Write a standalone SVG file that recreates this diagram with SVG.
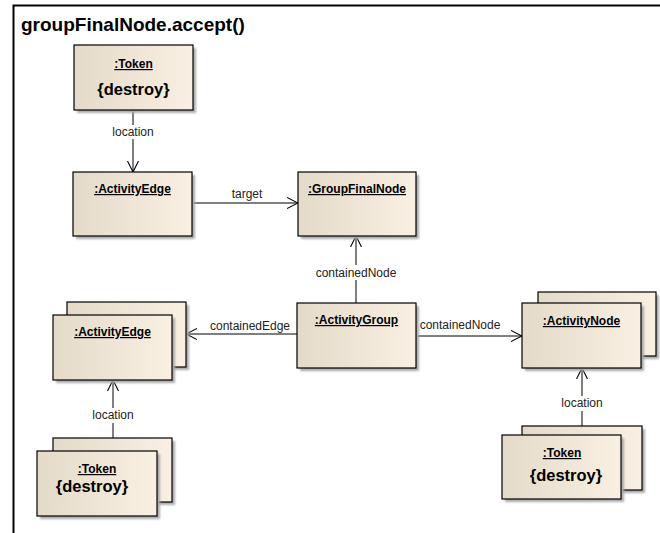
<svg xmlns="http://www.w3.org/2000/svg" width="660" height="533" viewBox="0 0 660 533">
<defs>
<linearGradient id="g" x1="0" y1="0" x2="1" y2="0">
<stop offset="0" stop-color="#e4dac9"/>
<stop offset="1" stop-color="#f9f0e3"/>
</linearGradient>
<filter id="sh" x="-10%" y="-10%" width="130%" height="130%">
<feGaussianBlur stdDeviation="0.8"/>
</filter>
<marker id="arr" viewBox="0 0 12 12" refX="11" refY="6" markerWidth="12" markerHeight="12" markerUnits="userSpaceOnUse" orient="auto">
<path d="M0,0.5 L11,6 L0,11.5" fill="none" stroke="#000" stroke-width="1.1"/>
</marker>
</defs>
<style>
.box{fill:url(#g);stroke:#000;stroke-width:1.2}
.shd{fill:#aaa;filter:url(#sh)}
.nm{font-family:"Liberation Sans",Arial,sans-serif;font-size:12px;font-weight:bold;text-anchor:middle;text-decoration:underline;fill:#000}
.ds{font-family:"Liberation Sans",Arial,sans-serif;font-size:16.5px;font-weight:bold;text-anchor:middle;fill:#000}
.lb{font-family:"Liberation Sans",Arial,sans-serif;font-size:12px;text-anchor:middle;fill:#222}
.ln{fill:none;stroke:#000;stroke-width:1}
</style>
<rect width="660" height="533" fill="#fff"/>
<g id="frame">
<path d="M13.5,533 V5.5 H660" fill="none" stroke="#000" stroke-width="2"/>
<text x="21" y="31" font-family="'Liberation Sans',Arial,sans-serif" font-size="19" font-weight="bold">groupFinalNode.accept()</text>
</g>
<g id="connectors">
<line class="ln" x1="133" y1="110" x2="133" y2="172" marker-end="url(#arr)"/>
<rect x="109" y="125" width="48" height="14" fill="#fff"/>
<text class="lb" x="133" y="136">location</text>
<line class="ln" x1="192" y1="203" x2="298" y2="203" marker-end="url(#arr)"/>
<text class="lb" x="247" y="198">target</text>
<line class="ln" x1="356" y1="303" x2="356" y2="236" marker-end="url(#arr)"/>
<rect x="314" y="265" width="84" height="15" fill="#fff"/>
<text class="lb" x="356" y="277">containedNode</text>
<line class="ln" x1="297" y1="334" x2="186" y2="334" marker-end="url(#arr)"/>
<rect x="209" y="319" width="83" height="13" fill="#fff"/>
<text class="lb" x="250" y="330">containedEdge</text>
<line class="ln" x1="416" y1="336" x2="522" y2="336" marker-end="url(#arr)"/>
<text class="lb" x="460" y="329">containedNode</text>
<line class="ln" x1="113" y1="438" x2="113" y2="380" marker-end="url(#arr)"/>
<rect x="89" y="408" width="48" height="15" fill="#fff"/>
<text class="lb" x="113" y="419">location</text>
<line class="ln" x1="582" y1="426" x2="582" y2="368" marker-end="url(#arr)"/>
<rect x="558" y="396" width="48" height="15" fill="#fff"/>
<text class="lb" x="582" y="407">location</text>
</g>
<g id="token1">
<rect class="shd" x="77" y="48" width="119" height="65"/>
<rect class="box" x="74" y="45" width="119" height="65"/>
<text class="nm" x="133.5" y="68">:Token</text>
<text class="ds" x="133.5" y="95">{destroy}</text>
</g>
<g id="activityEdge1">
<rect class="shd" x="76" y="175" width="119" height="64"/>
<rect class="box" x="73" y="172" width="119" height="64"/>
<text class="nm" x="132.5" y="193">:ActivityEdge</text>
</g>
<g id="groupFinalNode">
<rect class="shd" x="301" y="175" width="118" height="64"/>
<rect class="box" x="298" y="172" width="118" height="64"/>
<text class="nm" x="357" y="193">:GroupFinalNode</text>
</g>
<g id="activityGroup">
<rect class="shd" x="300" y="306" width="119" height="65"/>
<rect class="box" x="297" y="303" width="119" height="65"/>
<text class="nm" x="356.5" y="324">:ActivityGroup</text>
</g>
<g id="activityEdge2">
<rect class="shd" x="70" y="305" width="119" height="65"/>
<rect class="box" x="67" y="302" width="119" height="65"/>
<rect class="shd" x="56" y="318" width="119" height="65"/>
<rect class="box" x="53" y="315" width="119" height="65"/>
<text class="nm" x="112.5" y="336">:ActivityEdge</text>
</g>
<g id="activityNode">
<rect class="shd" x="541" y="295" width="118" height="64"/>
<rect class="box" x="538" y="292" width="118" height="64"/>
<rect class="shd" x="525" y="306" width="119" height="65"/>
<rect class="box" x="522" y="303" width="119" height="65"/>
<text class="nm" x="581.5" y="325">:ActivityNode</text>
</g>
<g id="token2">
<rect class="shd" x="56" y="441" width="119" height="64"/>
<rect class="box" x="53" y="438" width="119" height="64"/>
<rect class="shd" x="40" y="454" width="120" height="65"/>
<rect class="box" x="37" y="451" width="120" height="65"/>
<text class="nm" x="97" y="473">:Token</text>
<text class="ds" x="92" y="492">{destroy}</text>
</g>
<g id="token3">
<rect class="shd" x="525" y="429" width="120" height="64"/>
<rect class="box" x="522" y="426" width="120" height="64"/>
<rect class="shd" x="505" y="438" width="119" height="64"/>
<rect class="box" x="502" y="435" width="119" height="64"/>
<text class="nm" x="562" y="457">:Token</text>
<text class="ds" x="566" y="481">{destroy}</text>
</g>
</svg>
